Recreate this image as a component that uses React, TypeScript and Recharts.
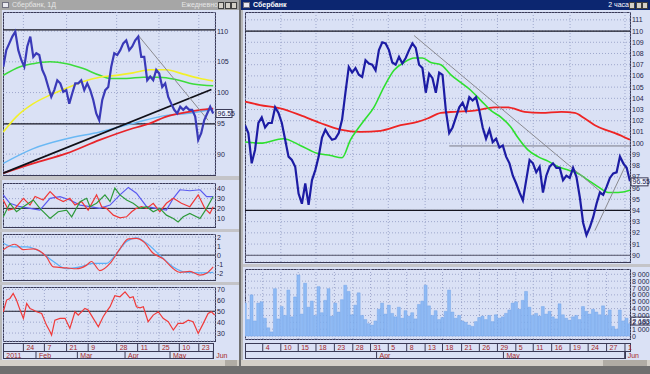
import React from 'react';
import { ComposedChart, Line, Bar, XAxis, YAxis, CartesianGrid, ReferenceLine } from 'recharts';

// ---------- right window: Сбербанк, 2-hour bars (one sample per ~3 bars)
const hourClose = [
  101.6, 100.9, 98.2, 99.4, 101.8, 102.3, 101.4, 101.8, 101.8, 103.2,
  102.7, 101.8, 100.3, 98.8, 98.5, 97.9, 95.5, 94.6, 96.4, 94.5,
  96.7, 97.6, 98.8, 100.5, 101.2, 100.7, 100.3, 100.4, 100.9, 102.1,
  104.5, 106.8, 106.3, 106.7, 106.1, 105.9, 107.4, 107.1, 107.0, 106.5,
  108.3, 109.0, 108.9, 108.3, 107.2, 107.0, 107.7, 107.1, 107.6, 108.3,
  108.9, 108.5, 107.0, 106.7, 104.5, 106.2, 105.8, 104.5, 106.3, 106.1,
  102.9, 100.9, 101.4, 102.3, 103.2, 103.6, 102.9, 104.1, 103.8, 104.1,
  102.9, 101.4, 100.4, 101.2, 100.1, 100.4, 99.6, 99.8, 98.8, 98.2,
  97.1, 96.4, 95.6, 94.9, 96.7, 98.5, 98.2, 97.4, 97.9, 95.6,
  97.1, 97.9, 98.2, 97.8, 97.8, 96.7, 97.1, 96.9, 97.8, 97.0,
  95.2, 92.9, 91.8, 92.5, 93.4, 94.6, 95.6, 95.4, 96.1, 96.9,
  97.3, 97.4, 98.8, 98.2, 97.8, 96.6,
];

// volume, millions of shares
const hourVolume = [
  4.8, 2.4, 6.0, 2.2, 4.8, 5.0, 2.6, 1.2, 0.6, 6.9,
  2.5, 4.3, 3.0, 6.7, 2.8, 5.7, 8.9, 3.2, 7.7, 4.2,
  5.1, 3.0, 7.2, 3.4, 5.2, 6.9, 2.9, 4.8, 3.5, 5.3,
  7.4, 6.5, 3.1, 4.5, 6.3, 3.0, 2.4, 1.8, 1.6, 2.2,
  3.9, 4.8, 3.2, 4.5, 3.3, 2.8, 4.2, 2.6, 3.7, 2.9,
  3.4, 2.5, 4.6, 5.1, 7.4, 4.4, 3.0, 3.7, 2.4, 2.7,
  3.6, 6.7, 3.5, 2.6, 3.0, 2.2, 2.0, 1.6, 1.4, 2.1,
  2.7, 2.9, 2.4, 3.0, 2.1, 3.1, 2.6, 2.8, 3.3, 3.8,
  4.8, 5.0, 3.9, 5.2, 6.5, 4.2, 3.0, 3.3, 2.9, 4.3,
  3.2, 3.6, 2.8, 2.5, 4.7, 3.1, 2.6, 2.3, 2.8, 3.0,
  2.4, 4.3, 3.6, 3.2, 3.9, 3.5, 3.1, 4.4, 3.0, 3.8,
  1.4, 1.0, 3.8, 2.2, 2.6, 1.8,
];

// moving averages as [sample, value]
const hourMaFast: [number, number][] = [
  [0, 100.1], [4.5, 100.0], [11.5, 100.4], [16.5, 99.8], [21.5, 99.1], [25.5, 98.9],
  [29, 98.7], [31.5, 100.3], [33.5, 101.2], [35.5, 102.0], [38.5, 103.2], [41.5, 105.0],
  [44.5, 106.5], [47.5, 107.2], [50.5, 107.6], [53, 107.6], [55.5, 107.2], [58.5, 107.0],
  [61.5, 106.1], [64.5, 105.4], [67.5, 104.7], [70.5, 103.8], [73.5, 102.9], [76.5, 102.3],
  [79.5, 101.4], [81.5, 100.5], [84.5, 99.4], [87.5, 98.8], [90.5, 98.4], [93.5, 97.9],
  [96.5, 97.6], [99.5, 97.3], [102.5, 96.7], [105.5, 96.1], [108.5, 95.6], [111.5, 95.6],
  [115, 95.8],
];
const hourMaSlow: [number, number][] = [
  [0, 103.7], [4.5, 103.4], [10.5, 103.1], [16.5, 102.5], [22.5, 101.8], [28.5, 101.2],
  [34.5, 101.0], [40.5, 101.1], [46.5, 101.6], [51.5, 101.9], [54.5, 102.2], [58.5, 102.7],
  [62.5, 102.8], [68.5, 102.9], [74.5, 103.2], [78.5, 103.2], [83.5, 102.8], [88.5, 102.7],
  [94.5, 102.8], [98.5, 102.7], [101.5, 102.2], [104.5, 101.6], [107.5, 101.2], [110.5, 100.9],
  [115, 100.3],
];

const hourPriceTicks = [90, 91, 92, 93, 94, 95, 96, 97, 98, 99, 100, 101, 102, 103, 104, 105, 106, 107, 108, 109, 110, 111];
const hourVolTicks = [0, 1, 2, 3, 4, 5, 6, 7, 8, 9];
const hourDaySeps = [5.3, 10.7, 15.9, 21.2, 26.7, 32.2, 37.5, 42.8, 48.3, 53.8, 59.0, 64.7, 70.0, 75.4, 80.9, 86.1, 91.6, 97.1, 102.5, 108.0, 113.5];
const hourDayLabels = ['4', '10', '15', '18', '23', '28', '31', '5', '8', '13', '18', '21', '26', '29', '5', '11', '16', '19', '24', '27', '1'];
const hourMonthSeps = [39.3, 77.2, 113.4];
const hourMonthLabels = ['Apr', 'May', 'Jun'];

// ---------- left window: Сбербанк, daily
const dayClose = [
  104.2, 106.9, 108.0, 109.1, 109.9, 106.9, 105.3, 104.2, 107.5, 109.1,
  105.8, 106.4, 106.1, 103.7, 102.6, 100.9, 99.3, 100.4, 102.0, 101.5,
  100.1, 100.4, 98.2, 99.9, 101.5, 101.5, 102.0, 100.4, 101.5, 100.4,
  98.8, 96.6, 95.5, 98.8, 100.4, 100.9, 104.2, 106.4, 106.1, 106.9,
  108.0, 108.5, 106.9, 107.5, 108.5, 109.1, 105.8, 105.8, 102.0, 102.6,
  102.0, 103.7, 103.1, 100.9, 101.5, 99.3, 98.2, 97.2, 96.6, 97.7,
  97.2, 97.7, 97.2, 97.2, 96.1, 92.3, 93.4, 95.5, 96.6, 97.7, 96.6,
];
const dayMaGreen: [number, number][] = [
  [0, 102.8], [5.6, 104.2], [10, 104.7], [15.6, 105.0], [21.1, 104.7], [26.7, 103.9], [32.2, 102.8],
  [35.6, 102.3], [41.1, 102.3], [46.7, 102.5], [52.2, 102.5], [57.8, 102.1], [63.3, 101.4], [70, 101.1],
];
const dayMaYellow: [number, number][] = [
  [0, 93.6], [4.4, 96.1], [10, 98.2], [15.6, 99.6], [21.1, 100.7], [26.7, 101.8], [32.2, 102.5],
  [37.8, 102.8], [43.3, 103.2], [48.9, 103.7], [54.4, 103.7], [60, 103.0], [65.6, 102.3], [70, 101.9],
];
const dayMaBlue: [number, number][] = [
  [0, 88.5], [10, 90.9], [21.1, 92.5], [32.2, 93.6], [43.3, 95.0], [54.4, 96.3], [61.1, 96.6], [70, 97.3],
];
const dayMaRed: [number, number][] = [
  [0, 86.9], [10, 88.5], [21.1, 90.1], [32.2, 92.3], [43.3, 94.2], [48.9, 95.0], [54.4, 96.1],
  [60, 96.7], [65.6, 97.2], [70, 97.4],
];
const adxBlue: [number, number][] = [
  [0, 33.8], [2.2, 25.2], [5.6, 21.7], [8.9, 20], [12.2, 18.3], [15.6, 30.3], [18.9, 32], [22.2, 28.6],
  [25.6, 23.4], [28.9, 21.7], [32.2, 20], [35.6, 23.4], [38.9, 33.8], [41.7, 41.4], [44.4, 35.5],
  [47.8, 21.7], [51.1, 20], [54.4, 18.3], [56.7, 30.3], [58.9, 39], [62.2, 38], [65.6, 39], [67.8, 32], [70, 32],
];
const adxRed: [number, number][] = [
  [0, 28.6], [1.7, 18.3], [3.9, 20], [6.7, 30.3], [8.9, 23.4], [10.6, 32.1], [13.3, 28.6], [15.6, 37.2],
  [17.8, 30.3], [20, 26.9], [22.2, 30.3], [23.9, 23.4], [26.1, 26.9], [28.3, 18.3], [31.1, 33.8],
  [32.8, 21.7], [34.4, 20], [36.7, 13.1], [38.9, 10.3], [41.1, 11.4], [42.8, 16.6], [44.4, 20],
  [46.1, 21.7], [47.8, 20], [50, 25.2], [52.2, 16.6], [54.4, 25.2], [56.7, 30.3], [59.4, 25.2],
  [62.2, 21.7], [65, 33.8], [67.2, 20], [68.9, 14.8], [70, 21.7],
];
const adxGreen: [number, number][] = [
  [0, 11.4], [2.2, 25.2], [4.4, 16.6], [6.7, 21.7], [10, 28.6], [12.2, 20], [15.6, 9.7], [18.3, 16.6],
  [21.1, 18.3], [22.8, 11.4], [25.6, 26.9], [27.8, 30.3], [28.9, 21.7], [31.1, 25.2], [33.9, 33.8],
  [35.6, 26.9], [37.2, 40.7], [38.9, 33.8], [41.1, 28.6], [43.3, 25.2], [45.6, 20], [47.8, 21.7],
  [50, 16.6], [52.2, 20], [54.4, 13.1], [56.7, 9.7], [58.3, 6.2], [60, 11.4], [62.2, 14.8],
  [65.6, 9.7], [67.8, 20], [70, 32.1],
];
const macdBlue: [number, number][] = [
  [0, 1.3], [3.3, 0.9], [7.8, 0.9], [12.2, 0.4], [16.7, -0.7], [21.1, -1.5], [25.6, -1.3], [30, -0.9],
  [34.4, -0.9], [37.8, 0.2], [41.1, 1.5], [44.4, 1.9], [47.8, 1.3], [52.2, 0], [56.7, -1.3],
  [61.1, -1.9], [65.6, -1.95], [70, -1.9],
];
const macdRed: [number, number][] = [
  [0, 0.6], [3.9, 1.2], [6.7, 0.6], [10, 0.7], [14.4, -0.2], [16.7, -1.3], [21.1, -1.4], [24.4, -1.5],
  [27.8, -1.1], [29.4, -0.7], [32.2, -1.7], [35.6, -0.9], [38.9, 0.7], [41.7, 1.8], [44.4, 1.85],
  [46.7, 1.5], [50, 0.2], [53.3, -0.4], [56.7, -1.5], [58.9, -1.9], [62.2, -1.8], [65.6, -2.2],
  [67.8, -2.0], [70, -1.3],
];
const rsiRed: [number, number][] = [
  [0, 49.6], [1.1, 60.3], [2.2, 61.8], [3.3, 66.4], [4.4, 60.3], [5.6, 51.1], [6.7, 43.5], [7.8, 57.2],
  [8.9, 52.6], [10, 51.1], [11.1, 49.6], [12.8, 48.0], [14.4, 37.3], [15.6, 31.2], [16.1, 28.2],
  [17.2, 41.9], [18.9, 43.5], [20.6, 43.5], [22.2, 34.3], [23.9, 49.6], [25, 46.5], [26.1, 49.6],
  [27.2, 52.6], [28.3, 51.1], [30, 43.5], [31.7, 35.8], [33.3, 45.0], [34.4, 49.6], [35.6, 54.2],
  [37.2, 64.3], [38.9, 63.3], [40.6, 67.9], [42.2, 62.4], [43.3, 63.3], [44.4, 54.2], [45.6, 53.2],
  [46.7, 54.2], [48.3, 40.4], [50, 46.5], [51.7, 49.6], [53.3, 43.5], [55, 40.4], [56.7, 32.8],
  [58.3, 38.9], [60, 38.9], [61.7, 41.9], [63.3, 40.4], [65, 29.7], [66.7, 38.9], [68.3, 48.0],
  [69.4, 49.6], [70.5, 46.5],
];
const dayPriceTicks = [90, 95, 100, 105, 110];
const adxTicks = [10, 20, 30, 40];
const macdTicks = [-2, -1, 0, 1, 2];
const rsiTicks = [30, 40, 50, 60, 70];
const dayDaySeps = [6.7, 13.7, 21.1, 28.3, 37.8, 44.8, 51.9, 58.7, 65.2];
const dayDayLabels = ['24', '7', '21', '9', '28', '11', '25', '10', '23'];
const dayMonthSeps = [0, 10.9, 24.7, 40.6, 55.6, 70];
const dayMonthLabels = ['2011', 'Feb', 'Mar', 'Apr', 'May', 'Jun'];

const FONT = '"Liberation Sans", Arial, sans-serif';
const BG = '#dae1f5';
const FRAME = '#3a3a56';
const GRID = '#9ea7cc';
const M = { top: 0, right: 0, bottom: 0, left: 0 };
const HOUR_DOMAIN = [0, 115];
const DAY_DOMAIN = [-0.1, 70.6];

const pts = (arr: [number, number][]) => arr.map(([x, v]) => ({ x, v }));
const hourData = hourClose.map((c, x) => ({ x, c, vol: hourVolume[x] }));
const dayData = dayClose.map((c, x) => ({ x, c }));

function RowTick(props: any) {
  const { x, y, payload, seps, labels, top, h } = props;
  const idx = seps.indexOf(payload.value);
  return (
    <g>
      <line x1={x} x2={x} y1={y + top} y2={y + top + h} stroke={FRAME} strokeWidth={1} />
      <text x={x + 3} y={y + top + h - 1.5} fontSize={7} fill="#a62a2a" fontFamily={FONT}>
        {idx >= 0 ? labels[idx] : ''}
      </text>
    </g>
  );
}

// plain svg text, so long volume labels are not wrapped
function YTick(props: any) {
  const { x, y, payload, fmt } = props;
  return (
    <text x={x} y={y + 2.5} fontSize={7} fill="#26264a" fontFamily={FONT}>
      {fmt ? fmt(payload.value) : payload.value}
    </text>
  );
}

const priceBox = (text: string, w: number) => (p: any) => {
  const vb = p.viewBox;
  const x = vb.x + vb.width + 1;
  return (
    <g>
      <rect x={x} y={vb.y - 4} width={w} height={8} fill="#eef3ff" stroke="#3a3a56" />
      <text x={x + 1.5} y={vb.y + 2.5} fontSize={7} fill="#20204a" fontFamily={FONT}>{text}</text>
    </g>
  );
};

const yAxis = (domain: number[], ticks: number[], width: number, fmt?: (v: number) => string) => (
  <YAxis
    orientation="right"
    width={width}
    type="number"
    domain={domain}
    ticks={ticks}
    interval={0}
    tick={<YTick fmt={fmt} />}
    axisLine={false}
    tickLine={false}
    tickSize={0}
    tickMargin={2}
    allowDataOverflow
  />
);

const box = (left: number, top: number, width: number, height: number) => (
  <div style={{ position: 'absolute', left, top, width, height, boxSizing: 'border-box', border: `1px solid ${FRAME}` }} />
);
const strip = (left: number, top: number, width: number, height: number, bg: string) => (
  <div style={{ position: 'absolute', left, top, width, height, background: bg }} />
);
const abs = (left: number, top: number): React.CSSProperties => ({ position: 'absolute', left, top });

function TitleBar({ left, width, bg, color, title, right, bold }: any) {
  return (
    <div style={{ position: 'absolute', left, top: 0, width, height: 10, background: bg, fontFamily: FONT, fontSize: 7, color }}>
      <div style={{ position: 'absolute', left: 2, top: 1.5, width: 7, height: 6, background: '#e8e8f0', border: '1px solid #707080', boxSizing: 'border-box' }} />
      <div style={{ position: 'absolute', left: 12, top: 1, fontWeight: bold ? 700 : 400, whiteSpace: 'nowrap' }}>{title}</div>
      <div style={{ position: 'absolute', right: 21, top: 1, whiteSpace: 'nowrap' }}>{right}</div>
      {[0, 1, 2].map((b) => (
        <div key={b} style={{ position: 'absolute', right: 2 + b * 6.5, top: 1.5, width: 6, height: 7, background: '#d4d0c8', border: '1px solid #404040', boxSizing: 'border-box' }} />
      ))}
    </div>
  );
}

export default function App() {
  return (
    <div style={{ position: 'fixed', left: 0, top: 0, width: 650, height: 374, overflow: 'hidden', background: '#6f6f6f', fontFamily: FONT }}>
      {/* left window */}
      <div style={{ position: 'absolute', left: 0, top: 0, width: 239, height: 366, background: BG, borderLeft: '2px solid #b8b8b8', boxSizing: 'border-box' }} />
      <TitleBar left={0} width={239} bg="#a6a6a6" color="#e6e6e6" title="Сбербанк, 1Д" right="Ежедневно" />
      {strip(0, 176, 239, 4, '#c4c4c8')}
      {strip(0, 229, 239, 3, '#c4c4c8')}
      {strip(0, 282, 239, 3, '#c4c4c8')}
      {box(3, 12, 213, 164)}
      {box(3, 183, 213, 45)}
      {box(3, 234, 213, 47)}
      {box(3, 287, 213, 55)}
      {box(3, 343, 211, 9)}
      {box(3, 351, 211, 8)}
      {strip(0, 360, 239, 6, '#d4d0c8')}
      {strip(225, 360, 12, 6, '#b0aca4')}

      <div style={abs(3, 12)}>
        <ComposedChart width={237} height={163} data={dayData} margin={M}>
          <CartesianGrid stroke={GRID} strokeDasharray="1 2" />
          <XAxis dataKey="x" type="number" domain={DAY_DOMAIN} ticks={dayDaySeps} hide allowDataOverflow />
          {yAxis([86.6, 113.1], dayPriceTicks, 25)}
          <ReferenceLine y={110.2} stroke="#151520" strokeWidth={1.2} />
          <ReferenceLine y={94.9} stroke="#151520" strokeWidth={1.2} />
          <Line data={pts(dayMaGreen)} dataKey="v" type="monotone" stroke="#3cdc3c" strokeWidth={1.6} dot={false} isAnimationActive={false} />
          <Line data={pts(dayMaYellow)} dataKey="v" type="monotone" stroke="#f2f02a" strokeWidth={1.6} dot={false} isAnimationActive={false} />
          <Line data={pts(dayMaBlue)} dataKey="v" type="monotone" stroke="#6ab8f4" strokeWidth={1.4} dot={false} isAnimationActive={false} />
          <Line data={pts(dayMaRed)} dataKey="v" type="monotone" stroke="#e8242a" strokeWidth={1.8} dot={false} isAnimationActive={false} />
          <ReferenceLine segment={[{ x: 0, y: 86.9 }, { x: 69.4, y: 100.5 }]} stroke="#101018" strokeWidth={1.8} />
          <ReferenceLine segment={[{ x: 45, y: 109.3 }, { x: 68.3, y: 95.5 }]} stroke="#8a8a90" strokeWidth={1} />
          <Line dataKey="c" type="linear" stroke="#3a3ab8" strokeWidth={2.2} dot={false} isAnimationActive={false} />
          <ReferenceLine y={96.6} stroke="none" label={priceBox('96.55', 16)} />
        </ComposedChart>
      </div>

      <div style={abs(3, 183)}>
        <ComposedChart width={237} height={44} margin={M}>
          <CartesianGrid stroke={GRID} strokeDasharray="1 2" />
          <XAxis dataKey="x" type="number" domain={DAY_DOMAIN} ticks={dayDaySeps} hide allowDataOverflow />
          {yAxis([1, 45.9], adxTicks, 25)}
          <ReferenceLine y={20} stroke="#202030" />
          <Line data={pts(adxBlue)} dataKey="v" stroke="#5a5af0" strokeWidth={1.2} dot={false} isAnimationActive={false} />
          <Line data={pts(adxRed)} dataKey="v" stroke="#f03838" strokeWidth={1.2} dot={false} isAnimationActive={false} />
          <Line data={pts(adxGreen)} dataKey="v" stroke="#2e9a3a" strokeWidth={1.2} dot={false} isAnimationActive={false} />
        </ComposedChart>
      </div>

      <div style={abs(3, 234)}>
        <ComposedChart width={237} height={46} margin={M}>
          <CartesianGrid stroke={GRID} strokeDasharray="1 2" />
          <XAxis dataKey="x" type="number" domain={DAY_DOMAIN} ticks={dayDaySeps} hide allowDataOverflow />
          {yAxis([-2.74, 2.33], macdTicks, 25)}
          <ReferenceLine y={0} stroke="#202030" />
          <Line data={pts(macdBlue)} dataKey="v" type="monotone" stroke="#5ab0f8" strokeWidth={1.2} dot={false} isAnimationActive={false} />
          <Line data={pts(macdRed)} dataKey="v" type="monotone" stroke="#f04040" strokeWidth={1.2} dot={false} isAnimationActive={false} />
        </ComposedChart>
      </div>

      <div style={abs(3, 287)}>
        <ComposedChart width={237} height={72} margin={M}>
          <CartesianGrid stroke={GRID} strokeDasharray="1 2" />
          <XAxis
            dataKey="x" type="number" domain={DAY_DOMAIN} ticks={dayDaySeps} interval={0} height={10}
            axisLine={false} tickLine={false} tickSize={0} tickMargin={0} allowDataOverflow
            tick={<RowTick seps={dayDaySeps} labels={dayDayLabels} top={2} h={8} />}
          />
          <XAxis
            xAxisId="m" dataKey="x" type="number" domain={DAY_DOMAIN} ticks={dayMonthSeps} interval={0} height={8}
            axisLine={false} tickLine={false} tickSize={0} tickMargin={0} allowDataOverflow
            tick={<RowTick seps={dayMonthSeps} labels={dayMonthLabels} top={0} h={8} />}
          />
          {yAxis([22.7, 72.3], rsiTicks, 25)}
          <ReferenceLine y={50} stroke="#202030" />
          <Line data={pts(rsiRed)} dataKey="v" stroke="#f03a3a" strokeWidth={1.2} dot={false} isAnimationActive={false} />
        </ComposedChart>
      </div>

      {/* right window */}
      <div style={{ position: 'absolute', left: 241, top: 0, width: 409, height: 366, background: BG, borderLeft: '2px solid #b8b8b8', boxSizing: 'border-box' }} />
      <TitleBar left={241} width={409} bg="#0c2670" color="#ffffff" title="Сбербанк" right="2 часа" bold />
      {strip(243, 264, 407, 3, '#c4c4c8')}
      {box(245, 12, 386, 251)}
      {box(245, 269, 386, 71)}
      {box(245, 343, 386, 9)}
      {box(245, 351, 381, 8)}
      {strip(241, 360, 409, 6, '#d4d0c8')}
      {strip(603, 360, 44, 6, '#b0aca4')}

      <div style={abs(245, 12)}>
        <ComposedChart width={405} height={250} data={hourData} margin={M}>
          <CartesianGrid stroke={GRID} strokeDasharray="1 2" />
          <XAxis dataKey="x" type="number" domain={HOUR_DOMAIN} ticks={hourDaySeps} hide allowDataOverflow />
          {yAxis([89.4, 111.7], hourPriceTicks, 20)}
          <ReferenceLine y={110} stroke="#151520" strokeWidth={1.2} />
          <ReferenceLine y={94} stroke="#151520" strokeWidth={1.2} />
          <ReferenceLine y={90} stroke="#55556a" strokeWidth={1} />
          <ReferenceLine segment={[{ x: 61, y: 99.75 }, { x: 115, y: 99.75 }]} stroke="#7c7c88" strokeWidth={1} />
          <Line data={pts(hourMaSlow)} dataKey="v" type="monotone" stroke="#ee2424" strokeWidth={1.8} dot={false} isAnimationActive={false} />
          <Line data={pts(hourMaFast)} dataKey="v" type="monotone" stroke="#2ee02e" strokeWidth={1.6} dot={false} isAnimationActive={false} />
          <ReferenceLine segment={[{ x: 50.5, y: 109.6 }, { x: 106.5, y: 95.6 }]} stroke="#8a8a90" strokeWidth={1} />
          <ReferenceLine segment={[{ x: 104.5, y: 92.2 }, { x: 113.5, y: 97.9 }]} stroke="#8a8a90" strokeWidth={1} />
          <Line dataKey="c" type="linear" stroke="#1c1ca4" strokeWidth={2.2} dot={false} isAnimationActive={false} />
          <ReferenceLine y={96.55} stroke="none" label={priceBox('96.55', 17)} />
        </ComposedChart>
      </div>

      <div style={abs(245, 269)}>
        <ComposedChart width={405} height={90} data={hourData} margin={M} barCategoryGap={0}>
          <CartesianGrid stroke={GRID} strokeDasharray="1 2" />
          <XAxis
            dataKey="x" type="number" domain={HOUR_DOMAIN} ticks={hourDaySeps} interval={0} height={12}
            axisLine={false} tickLine={false} tickSize={0} tickMargin={0} allowDataOverflow
            tick={<RowTick seps={hourDaySeps} labels={hourDayLabels} top={4} h={8} />}
          />
          <XAxis
            xAxisId="m" dataKey="x" type="number" domain={HOUR_DOMAIN} ticks={hourMonthSeps} interval={0} height={8}
            axisLine={false} tickLine={false} tickSize={0} tickMargin={0} allowDataOverflow
            tick={<RowTick seps={hourMonthSeps} labels={hourMonthLabels} top={0} h={8} />}
          />
          {yAxis([-0.43, 9.77], hourVolTicks, 20, (v) => (v === 0 ? '0' : `${v} 000 000`))}
          <Bar dataKey="vol" fill="#8fbaf4" stroke="#6a9ee8" strokeWidth={0.4} isAnimationActive={false} />
          <ReferenceLine y={2.18} stroke="none" label={priceBox('2 183 000', 30)} />
        </ComposedChart>
      </div>
    </div>
  );
}
